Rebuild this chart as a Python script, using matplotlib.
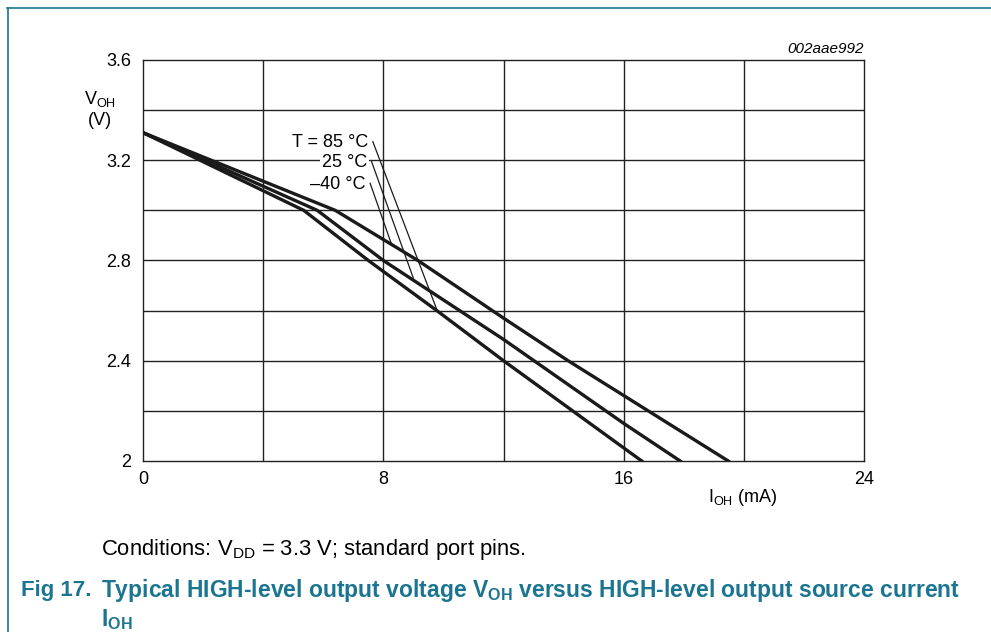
import matplotlib
matplotlib.use("Agg")
import matplotlib.pyplot as plt
from matplotlib.lines import Line2D

plt.rcParams['font.family'] = ['Liberation Sans', 'DejaVu Sans']
plt.rcParams['mathtext.fontset'] = 'custom'
plt.rcParams['mathtext.rm'] = 'Liberation Sans'
plt.rcParams['mathtext.bf'] = 'Liberation Sans:bold'

# curves (I_OH in mA, V_OH in V)
i_85 = [0, 5.35, 7.5, 9.78, 12.0, 16.6]
v_85 = [3.31, 3.0, 2.8, 2.6, 2.4, 2.0]
i_25 = [0, 5.8, 8.0, 12.0, 16.0, 17.88]
v_25 = [3.31, 3.0, 2.8, 2.485, 2.15, 2.0]
i_m40 = [0, 6.4, 9.15, 12.0, 14.15, 19.48]
v_m40 = [3.31, 3.0, 2.8, 2.57, 2.4, 2.0]

labels = ['T = 85 °C', '25 °C', '\u201340 °C']
# leader lines: label end -> point on curve
lead_start = [(7.65, 3.274), (7.61, 3.194), (7.56, 3.108)]
lead_end = [(9.78, 2.604), (9.0, 2.729), (8.28, 2.862)]

x_ticks = [0, 8, 16, 24]
y_ticks = [2, 2.4, 2.8, 3.2, 3.6]

teal = '#1b7590'

fig = plt.figure(figsize=(9.91, 6.32), dpi=100)
ax = fig.add_axes([0.1443, 0.2706, 0.7276, 0.6345])

ax.set_xlim(0, 24)
ax.set_ylim(2, 3.6)
for x in range(4, 24, 4):
    ax.axvline(x, color='#222222', lw=1.0, zorder=1)
for k in range(1, 8):
    ax.axhline(2 + 0.2 * k, color='#222222', lw=1.0, zorder=1)

for ii, vv in [(i_85, v_85), (i_25, v_25), (i_m40, v_m40)]:
    ax.plot(ii, vv, color='#1a1a1a', lw=2.4, zorder=3, solid_joinstyle='miter')

for lab, s, e in zip(labels, lead_start, lead_end):
    ax.plot([s[0], e[0]], [s[1], e[1]], color='#1a1a1a', lw=0.9, zorder=4)
    ax.text(s[0] - 0.15, s[1] - 0.005, lab, ha='right', va='center', fontsize=13, zorder=5,
            bbox=dict(facecolor='white', edgecolor='none', pad=1.5))

ax.set_xticks(x_ticks)
ax.set_yticks(y_ticks)
ax.set_xticklabels([str(t) for t in x_ticks])
ax.set_yticklabels(['2', '2.4', '2.8', '3.2', '3.6'])
ax.tick_params(length=0, labelsize=13)
ax.tick_params(axis='x', pad=7.5)
ax.tick_params(axis='y', pad=8.5)
for sp in ax.spines.values():
    sp.set_linewidth(1.0)
    sp.set_color('#222222')

fig.text(0.101, 0.843, r'V$_{\mathregular{OH}}$', fontsize=13, ha='center', va='center')
fig.text(0.101, 0.81, '(V)', fontsize=13, ha='center', va='center')
fig.text(0.749, 0.213, r'I$_{\mathregular{OH}}$ (mA)', fontsize=13, ha='center', va='center')
fig.text(0.872, 0.923, '002aae992', fontsize=11, style='italic', ha='right', va='center')

fig.text(0.102, 0.13, r'Conditions: V$_{\mathregular{DD}}$ = 3.3 V; standard port pins.',
         fontsize=15.8, ha='left', va='center')
fig.text(0.021, 0.066, 'Fig 17.', fontsize=16, weight='bold', color=teal, ha='left', va='center')
fig.text(0.102, 0.066, r'Typical HIGH-level output voltage V$_{\mathbf{OH}}$ versus HIGH-level output source current',
         fontsize=16.5, weight='bold', color=teal, ha='left', va='center')
fig.text(0.102, 0.02, r'I$_{\mathbf{OH}}$', fontsize=16.5, weight='bold', color=teal, ha='left', va='center')

# page frame lines
fig.add_artist(Line2D([0.007, 1.0], [1 - 8 / 632, 1 - 8 / 632], color=teal, lw=1.2))
fig.add_artist(Line2D([0.008, 0.008], [0, 1 - 8 / 632], color=teal, lw=1.2))

fig.savefig('out.png', dpi=100)
